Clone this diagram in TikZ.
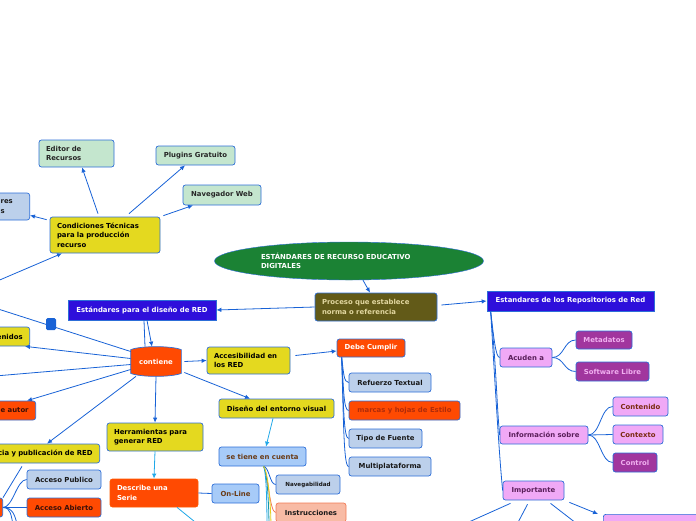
\documentclass[tikz,border=0pt]{standalone}
\usepackage{fontspec}
\setmainfont{DejaVu Sans}
\usepackage{xcolor}
\usepackage{tikz}
\usetikzlibrary{arrows.meta,shapes.geometric,backgrounds}
\definecolor{lineblue}{RGB}{24,98,214}
\definecolor{cyanline}{RGB}{32,168,232}
\definecolor{bord}{RGB}{45,110,216}
\definecolor{yfill}{RGB}{228,217,31}
\definecolor{rootgreen}{RGB}{27,130,52}
\definecolor{olivefill}{RGB}{98,90,24}
\definecolor{khaki}{RGB}{226,215,160}
\definecolor{ored}{RGB}{255,74,2}
\definecolor{headblue}{RGB}{46,15,219}
\definecolor{greyblue}{RGB}{188,208,235}
\definecolor{skyfill}{RGB}{167,203,248}
\definecolor{brownt}{RGB}{106,59,22}
\definecolor{greenfill}{RGB}{196,230,206}
\definecolor{pinkfill}{RGB}{240,169,246}
\definecolor{purplefill}{RGB}{161,54,158}
\definecolor{pinktext}{RGB}{241,176,240}
\definecolor{plumtext}{RGB}{90,31,90}
\definecolor{rusttext}{RGB}{122,42,16}
\definecolor{salmon}{RGB}{248,187,165}
\definecolor{salmonline}{RGB}{242,123,85}
\definecolor{darkred}{RGB}{60,16,8}
\definecolor{marcared}{RGB}{176,44,10}
\definecolor{tealline}{RGB}{22,150,170}
\definecolor{yline}{RGB}{226,206,30}
\newcommand\mmfont{\fontsize{6.9}{9.5}\selectfont\bfseries}

\begin{document}
\begin{tikzpicture}[x=1pt,y=-1pt,
    box/.style={draw=bord, rounded corners=2.5pt, line width=0.7pt, font=\mmfont,
      inner xsep=7pt, inner ysep=2pt, minimum height=19pt, align=left},
    ybox/.style={box, fill=yfill, text=black},
    gbox/.style={box, fill=greenfill, text=black!85},
    lbox/.style={box, fill=greyblue, text=black!90},
    sbox/.style={box, fill=skyfill, text=brownt},
    obox/.style={box, fill=ored, text=white},
    pbox/.style={box, fill=pinkfill, text=plumtext},
    vbox/.style={box, fill=purplefill, text=pinktext},
    hbox/.style={box, rounded corners=0pt, fill=headblue, text=white, minimum height=20pt},
    arr/.style={draw=lineblue, line width=0.8pt, -{Latex[length=5pt,width=4.5pt]}},
    carr/.style={draw=cyanline, line width=0.8pt, -{Latex[length=5pt,width=4.5pt]}},
    ln/.style={draw=lineblue, line width=0.8pt}
  ]
  \useasboundingbox (0,0) rectangle (696,520);

  \node[ellipse, draw=bord, fill=rootgreen, minimum width=269pt, minimum height=38pt,
    inner sep=0pt, text=white, font=\mmfont, align=left, text width=176pt] (root) at (349,261)
    {ESTÁNDARES DE RECURSO EDUCATIVO\\DIGITALES};
  \node[box, fill=olivefill, text=khaki, text width=108pt, minimum height=28pt] (proc) at (376,307)
    {Proceso que establece\\norma o referencia};
  \node[hbox, minimum width=148pt] (disRED) at (142,310) {Estándares para el diseño de RED};
  \node[hbox, minimum width=167pt] (repRED) at (570.5,301) {Estandares de los Repositorios de Red};

  \node[obox, draw=none, fill=none, minimum width=50pt, minimum height=29pt] (contiene) at (156,361.5) {contiene};
  \begin{scope}[on background layer]
    \draw[draw=bord, fill=ored, line width=0.7pt]
      ([yshift=-3pt]contiene.north west) .. controls +(10,-4) and +(-10,-4) .. ([yshift=-3pt]contiene.north east)
      -- ([yshift=3pt]contiene.south east) .. controls +(-10,4) and +(10,4) .. ([yshift=3pt]contiene.south west) -- cycle;
  \end{scope}
  \node[ybox, text width=69pt, minimum height=27pt] (acces) at (248.5,360.5) {Accesibilidad en\\los RED};
  \node[obox, minimum width=68pt, minimum height=18pt] (debe) at (371,348) {Debe Cumplir};
  \node[lbox, minimum width=82pt] (refuerzo) at (390,382.5) {Refuerzo Textual};
  \node[obox, text=marcared, minimum width=111pt] (marcas) at (404.5,410.5) {marcas y hojas de Estilo};
  \node[lbox, minimum width=73pt] (tipo) at (385.5,438.5) {Tipo de Fuente};
  \node[lbox, minimum width=82pt] (multi) at (390,466.5) {Multiplataforma};
  \node[ybox, minimum width=115pt] (disenoEnt) at (276.5,408.5) {Diseño del entorno visual};
  \node[sbox, minimum width=87pt] (tiene) at (262.5,456.5) {se tiene en cuenta};
  \node[lbox, minimum width=64pt, font=\fontsize{5.6}{7}\selectfont\bfseries] (naveg) at (308,484.5) {Navegabilidad};
  \node[box, fill=salmon, draw=salmonline, text=black!90, minimum width=70pt] (instr) at (311,512.5) {Instrucciones};
  \node[ybox, text width=82pt, minimum height=28pt] (herr) at (155,437) {Herramientas para\\generar RED};
  \node[obox, draw=ored!70!orange, text width=74pt, minimum height=28pt] (serie) at (154,493) {Describe una\\Serie};
  \node[sbox, minimum width=47pt] (online) at (235.5,493.5) {On-Line};

  \node[ybox, text width=96pt, minimum height=36pt] (cond) at (105,235)
    {Condiciones Técnicas\\para la producción\\recurso};
  \node[gbox, text width=61pt, minimum height=27pt] (editor) at (76.5,153.5) {Editor de\\Recursos};
  \node[gbox, minimum width=79pt] (plugins) at (195.5,155.5) {Plugins Gratuito};
  \node[gbox, minimum width=78pt, minimum height=20pt] (naveWeb) at (222,195) {Navegador Web};
  \node[lbox, anchor=east, text width=22pt, minimum height=27pt] (repro) at (30,206.5) {res\\s};
  \node[ybox, anchor=east, text width=40pt, align=right] (conten) at (30,336.5) {enidos};
  \node[obox, text=darkred, anchor=east, text width=40pt, align=right] (autor) at (36,410.5) {e autor};
  \node[ybox, anchor=east, text width=100pt, align=right] (publ) at (100,453.5) {cia y publicación de RED};
  \node[lbox, minimum width=74pt] (pub) at (64,479.5) {Acceso Publico};
  \node[obox, text=darkred, minimum width=74pt] (abierto) at (64,507.5) {Acceso Abierto};
  \node[obox, anchor=east, minimum width=20pt] (lic) at (3,507.5) {};

  \node[pbox, minimum width=52pt] (acuden) at (526,357.5) {Acuden a};
  \node[vbox, minimum width=56pt, minimum height=18pt] (meta) at (604,340) {Metadatos};
  \node[vbox, minimum width=73pt] (soft) at (612.5,371.5) {Software Libre};
  \node[pbox, minimum width=88pt, minimum height=18pt] (info) at (544,435) {Información sobre};
  \node[pbox, text=rusttext, minimum width=55pt] (contenido) at (640.5,406.5) {Contenido};
  \node[pbox, text=rusttext, minimum width=50pt] (contexto) at (638,434.5) {Contexto};
  \node[vbox, minimum width=44pt] (control) at (635,462.5) {Control};
  \node[pbox, minimum width=61pt] (importante) at (533.5,490.5) {Importante};
  \node[pbox, anchor=north west, minimum width=100pt] (imp2) at (603,514) {};

  \coordinate (offA) at (-5,376);
  \coordinate (offB) at (-5,308);
  \coordinate (offC) at (-5,282);
  \coordinate (offD) at (200,526);
  \coordinate (offE) at (267,528);
  \coordinate (offF) at (269,528);
  \coordinate (offG) at (271,528);
  \coordinate (offH) at (13,524);
  \coordinate (offI) at (17,524);
  \coordinate (offJ) at (451,530);
  \coordinate (offK) at (514,530);
  \coordinate (offL) at (585,530);

  \draw[arr] ([xshift=14pt]root.south) -- ([xshift=-6pt]proc.north);
  \draw[arr] (proc.west) -- (disRED.east);
  \draw[arr] ([xshift=4pt,yshift=2pt]proc.east) -- (repRED.west);
  \draw[ln] ([xshift=2pt]disRED.south) -- ([xshift=-11pt]contiene.north);
  \draw[arr] ([xshift=5pt]disRED.south) -- ([xshift=-4pt]contiene.north);
  \draw[arr] ([xshift=3pt]contiene.east) -- (acces.west);
  \draw[arr] ([xshift=3pt,yshift=-11pt]contiene.east) -- ([xshift=-26.5pt]disenoEnt.north);
  \draw[arr] (contiene.south) -- (herr.north);
  \draw[arr] ([xshift=-20pt]contiene.south) -- ([xshift=-53pt]publ.north east);
  \draw[arr] ([yshift=-8pt]contiene.west) -- ([xshift=-9pt]autor.north east);
  \draw[arr] ([yshift=3pt]contiene.west) -- ([xshift=-5pt]conten.south east);
  \draw[ln] ([yshift=-3pt]contiene.west) -- (offA);
  \draw[ln] ([yshift=10pt]contiene.west) -- (offB);

  \draw[arr] (offC) -- ([xshift=-43pt]cond.south);
  \draw[arr] ([xshift=-7pt,yshift=3pt]cond.north) -- ([xshift=5.5pt]editor.south);
  \draw[arr] ([xshift=24pt,yshift=3pt]cond.north) -- ([xshift=-10.5pt]plugins.south);
  \draw[arr] ([xshift=3pt,yshift=1pt]cond.north east) -- ([xshift=-29pt]naveWeb.south);
  \draw[arr] ([xshift=-3pt,yshift=-3pt]cond.north west) -- ([yshift=5pt]repro.south east);

  \draw[arr] ([xshift=5pt,yshift=5pt]acces.east) -- ([yshift=-3pt]debe.west);
  \coordinate (dS) at ([xshift=5pt]debe.south west);
  \draw[ln] (dS) .. controls +(2,15) and +(-5,0) .. (refuerzo.west);
  \draw[ln] (dS) .. controls +(2,32) and +(-5,0) .. (marcas.west);
  \draw[ln] (dS) .. controls +(2,49) and +(-5,0) .. (tipo.west);
  \draw[ln] (dS) .. controls +(2,66) and +(-5,0) .. (multi.west);

  \draw[carr] ([xshift=-3.5pt]disenoEnt.south) -- ([xshift=3.5pt]tiene.north);
  \coordinate (tS) at ([xshift=1pt]tiene.south);
  \draw[ln] (tS) .. controls +(6,1) and +(-6,0) .. (naveg.west);
  \draw[draw=salmonline, line width=0.8pt] (tS) .. controls +(4,4) and +(-6,0) .. (instr.west);
  \draw[draw=cyanline, line width=0.8pt] (tS) .. controls +(3,6) and +(0,-20) .. (offE);
  \draw[draw=tealline, line width=0.8pt] (tS) .. controls +(4,6) and +(0,-20) .. (offF);
  \draw[draw=yline, line width=0.8pt] (tS) .. controls +(5,6) and +(0,-20) .. (offG);

  \draw[carr] (herr.south) -- (serie.north);
  \draw[ln] (serie.east) -- (online.west);
  \draw[draw=cyanline, line width=0.8pt] ([xshift=23pt]serie.south) -- (offD);

  \draw[ln] ([xshift=-78pt,yshift=-3pt]publ.south east) -- (lic.north east);
  \draw[ln] (lic.east) .. controls +(10,0) and +(-10,0) .. (pub.west);
  \draw[ln] (lic.east) -- (abierto.west);
  \draw[ln] (lic.east) .. controls +(8,0) and +(-2,-8) .. (offH);
  \draw[ln] (lic.east) .. controls +(10,0) and +(-2,-8) .. (offI);

  \coordinate (rS) at ([xshift=4pt]repRED.south west);
  \draw[ln] (rS) .. controls +(3,25) and +(-4,0) .. (acuden.west);
  \draw[ln] (rS) .. controls +(6,60) and +(-3,-30) .. (info.west);
  \draw[ln] (rS) .. controls +(6,100) and +(-3,-30) .. (importante.west);
  \draw[ln] (acuden.east) .. controls +(12,0) and +(-12,0) .. (meta.west);
  \draw[ln] (acuden.east) .. controls +(12,0) and +(-12,0) .. (soft.west);
  \draw[ln] (info.east) .. controls +(12,0) and +(-12,0) .. (contenido.west);
  \draw[ln] (info.east) -- (contexto.west);
  \draw[ln] (info.east) .. controls +(12,0) and +(-12,0) .. (control.west);
  \draw[arr] ([xshift=5pt,yshift=-2pt]importante.south east) -- ([xshift=-5pt]imp2.north west);
  \draw[ln] ([xshift=-23pt,yshift=-3pt]importante.south) -- (offJ);
  \draw[ln] ([xshift=-6pt,yshift=-4pt]importante.south) -- (offK);
  \draw[ln] ([xshift=17pt,yshift=-3pt]importante.south) -- (offL);

  \node[fill=lineblue, rounded corners=1.5pt, minimum width=10pt, minimum height=12pt, inner sep=0pt] (handle) at (51,324) {};
\end{tikzpicture}
\end{document}
